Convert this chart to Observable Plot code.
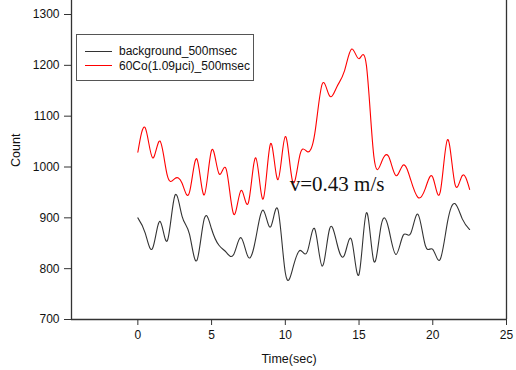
<!DOCTYPE html>
<html>
<head>
<meta charset="utf-8">
<script src="https://cdn.jsdelivr.net/npm/d3@7"></script>
<script src="https://cdn.jsdelivr.net/npm/@observablehq/plot@0.6"></script>
<style>
  html, body { margin: 0; padding: 0; background: #fff; }
  #wrap { position: relative; width: 516px; height: 370px; font-family: "Liberation Sans", Arial, sans-serif; }
  #legend { position: absolute; left: 76px; top: 34px; width: 176px; height: 45px; border: 1.5px solid #555; background: #fff; font-size: 12px; color: #111; }
  #legend .row { position: absolute; left: 8px; height: 14px; display: flex; align-items: center; white-space: nowrap; }
  #legend .sw { width: 27px; height: 0; border-top: 1px solid; margin-right: 7px; }
</style>
</head>
<body>
<div id="wrap"></div>
<script>
// sampling times (s)
const times = [0,0.5,1,1.5,2,2.5,3,3.5,4,4.5,5,5.5,6,6.5,7,7.5,8,8.5,9,9.5,10,10.5,11,11.5,12,12.5,13,13.5,14,14.5,15,15.5,16,16.5,17,17.5,18,18.5,19,19.5,20,20.5,21,21.5,22,22.5];
// background_500msec counts
const background = [900,870,840,893,855,943,903,868,816,898,878,846,832,828,861,822,860,915,882,916,792,800,836,834,878,805,878,850,826,856,789,910,815,885,880,828,866,869,907,845,838,818,892,928,898,877];
// 60Co(1.09µci)_500msec counts
const cobalt = [1029,1077,1018,1051,983,977,968,950,1016,945,1033,987,995,907,954,930,1018,937,1046,975,1060,971,1025,1030,1066,1163,1140,1158,1188,1232,1213,1200,1022,1008,1021,983,1004,975,940,958,980,950,1054,967,983,956];
const seriesNames = ["background_500msec", "60Co(1.09\u03bcci)_500msec"];
const seriesColors = ["#333333", "#ff0000"];
const xTicks = [0,5,10,15,20,25];
const yTicks = [700,800,900,1000,1100,1200,1300];
const xDomain = [-4.5, 25];
const yDomain = [700, 1300];
const annotation = [{t: 10.3, v: 952, label: "v=0.43 m/s"}];

const bg = times.map((t, i) => ({t, v: background[i]}));
const co = times.map((t, i) => ({t, v: cobalt[i]}));

const chart = Plot.plot({
  width: 516,
  height: 370,
  marginLeft: 71,
  marginRight: 10,
  marginTop: 14,
  marginBottom: 51,
  style: {fontFamily: "'Liberation Sans', Arial, sans-serif", fontSize: "12px", color: "#111", background: "#fff"},
  x: {domain: xDomain},
  y: {domain: yDomain},
  marks: [
    Plot.axisX({ticks: xTicks, tickSize: 6, tickPadding: 5, label: null, stroke: "#333", fontSize: 12, tickFormat: "d"}),
    Plot.axisY({ticks: yTicks, tickSize: 7, tickPadding: 5, label: null, stroke: "#333", fontSize: 12, tickFormat: "d"}),
    Plot.ruleY([yDomain[0]], {x1: xDomain[0], x2: xDomain[1], stroke: "#333", strokeWidth: 1.3}),
    Plot.ruleX([xDomain[0]], {y1: yDomain[0], y2: 1328, stroke: "#333", strokeWidth: 1.3, clip: false}),
    Plot.ruleX([xDomain[1]], {y1: yDomain[0], y2: 1328, stroke: "#333", strokeWidth: 1.3, clip: false}),
    Plot.line(bg, {x: "t", y: "v", stroke: seriesColors[0], strokeWidth: 1.1, curve: "natural"}),
    Plot.line(co, {x: "t", y: "v", stroke: seriesColors[1], strokeWidth: 1.1, curve: "natural"}),
    Plot.text(annotation, {x: "t", y: "v", text: "label", textAnchor: "start", lineAnchor: "bottom", fontSize: 21, fontFamily: "'Liberation Serif', 'Times New Roman', serif", fill: "#111"}),
    Plot.text(["Count"], {frameAnchor: "left", rotate: -90, dx: -56, fontSize: 12.5, fill: "#111"}),
    Plot.text(["Time(sec)"], {frameAnchor: "bottom", dy: 43, fontSize: 12.5, fill: "#111"})
  ]
});

const wrap = document.getElementById("wrap");
wrap.appendChild(chart);
const legend = document.createElement("div");
legend.id = "legend";
seriesNames.forEach((name, i) => {
  const row = document.createElement("div");
  row.className = "row";
  row.style.top = (9 + i * 14.5) + "px";
  const sw = document.createElement("span");
  sw.className = "sw";
  sw.style.borderTopColor = seriesColors[i];
  const tx = document.createElement("span");
  tx.textContent = name;
  row.appendChild(sw);
  row.appendChild(tx);
  legend.appendChild(row);
});
wrap.appendChild(legend);
</script>
</body>
</html>
